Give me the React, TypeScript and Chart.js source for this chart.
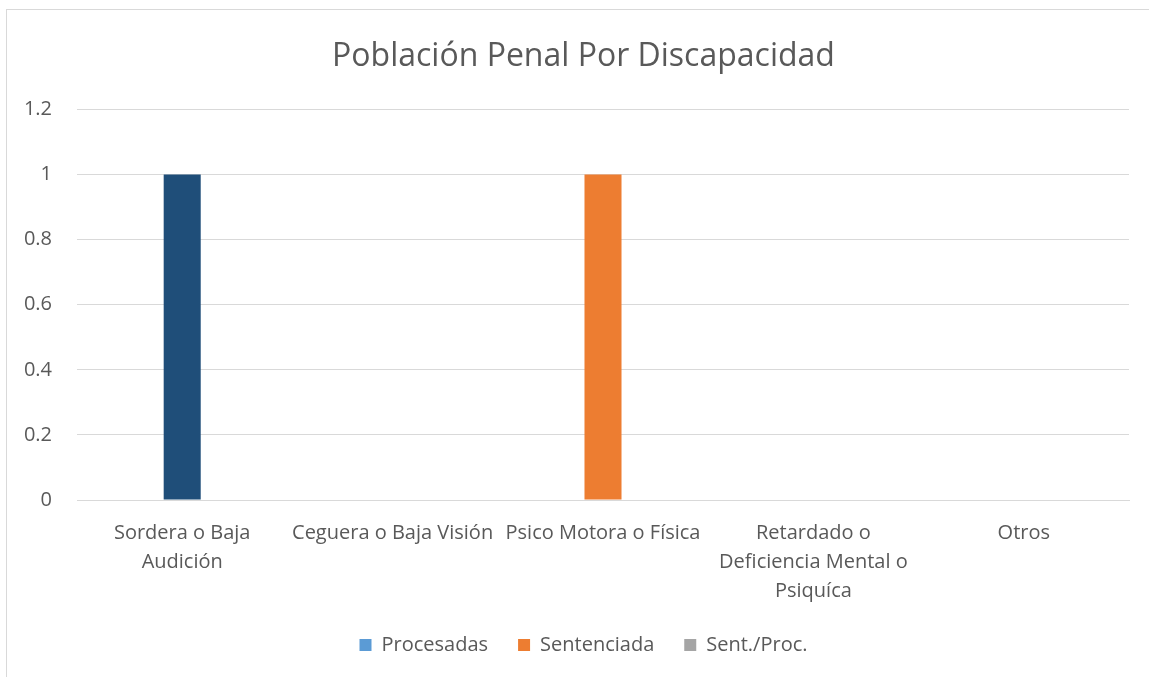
import React, { useEffect, useRef } from "react";
import { Chart, registerables } from "chart.js";

Chart.register(...registerables);

const categories: string[][] = [
  ["Sordera o Baja", "Audición"],
  ["Ceguera o Baja Visión"],
  ["Psico Motora o Física"],
  ["Retardado o", "Deficiencia Mental o", "Psiquíca"],
  ["Otros"],
];
const seriesNames = ["Procesadas", "Sentenciada", "Sent./Proc."];
const procesadas = [0, 0, 0, 0, 0];
const sentenciada = [1, 0, 1, 0, 0];
const sentProc = [0, 0, 0, 0, 0];
const seriesColors = ["#5B9BD5", "#ED7D31", "#A5A5A5"];
const sentenciadaBarColors = ["#1F4E79", "#ED7D31", "#ED7D31", "#ED7D31", "#ED7D31"];
const yMax = 1.2;
const yStep = 0.2;
const title = "Población Penal Por Discapacidad";

const FONT = "'Open Sans', sans-serif";
const TEXT = "#595959";

const shiftBlocks = {
  id: "shiftBlocks",
  afterLayout(chart: any) {
    if (chart.titleBlock) chart.titleBlock.left += 38;
    if (chart.legend) chart.legend.left += 38;
  },
};

export default function App() {
  const ref = useRef<HTMLCanvasElement | null>(null);
  useEffect(() => {
    document.body.style.margin = "0";
    const ctx = ref.current!;
    const chart = new Chart(ctx, {
      type: "bar",
      data: {
        labels: categories,
        datasets: [
          { label: seriesNames[0], data: procesadas, backgroundColor: seriesColors[0] },
          { label: seriesNames[1], data: sentenciada, backgroundColor: sentenciadaBarColors },
          { label: seriesNames[2], data: sentProc, backgroundColor: seriesColors[2] },
        ],
      },
      plugins: [shiftBlocks],
      options: {
        responsive: false,
        animation: false,
        datasets: { bar: { categoryPercentage: 0.528, barPercentage: 1 } },
        layout: { padding: { left: 0, right: 20, top: 0, bottom: 12 } },
        plugins: {
          title: {
            display: true,
            text: title,
            color: TEXT,
            font: { family: FONT, size: 32, weight: "normal", lineHeight: 1.2 },
            padding: { top: 38, bottom: 33 },
          },
          legend: {
            position: "bottom",
            labels: {
              color: TEXT,
              font: { family: FONT, size: 20 },
              boxWidth: 12,
              boxHeight: 12,
              padding: 30,
              generateLabels: () =>
                seriesNames.map((n, i) => ({
                  text: n,
                  fillStyle: seriesColors[i],
                  strokeStyle: seriesColors[i],
                  lineWidth: 0,
                  hidden: false,
                  datasetIndex: i,
                  fontColor: TEXT,
                })),
            },
          },
          tooltip: { enabled: false },
        },
        scales: {
          x: {
            afterFit: (s: any) => {
              s.height = 105;
            },
            grid: { display: false, drawTicks: false },
            border: { color: "#D9D9D9" },
            ticks: {
              color: TEXT,
              font: { family: FONT, size: 20, lineHeight: 1.45 },
              padding: 19,
              maxRotation: 0,
              autoSkip: false,
            },
          },
          y: {
            min: 0,
            max: yMax,
            afterFit: (s: any) => {
              s.width = 77;
            },
            grid: { color: "#D9D9D9", drawTicks: false },
            border: { display: false },
            ticks: {
              stepSize: yStep,
              color: TEXT,
              font: { family: FONT, size: 20 },
              padding: 25,
              callback: (v: any) => String(Number(Number(v).toFixed(1))),
            },
          },
        },
      },
    });
    return () => chart.destroy();
  }, []);
  return (
    <div style={{ position: "fixed", left: 0, top: 0, width: 1149, height: 677, overflow: "hidden", background: "#fff" }}>
      <div
        style={{
          position: "absolute",
          left: 6,
          top: 9,
          width: 1200,
          height: 700,
          border: "1px solid #D9D9D9",
        }}
      />
      <canvas ref={ref} width={1149} height={677} style={{ position: "absolute", left: 0, top: 0 }} />
    </div>
  );
}
